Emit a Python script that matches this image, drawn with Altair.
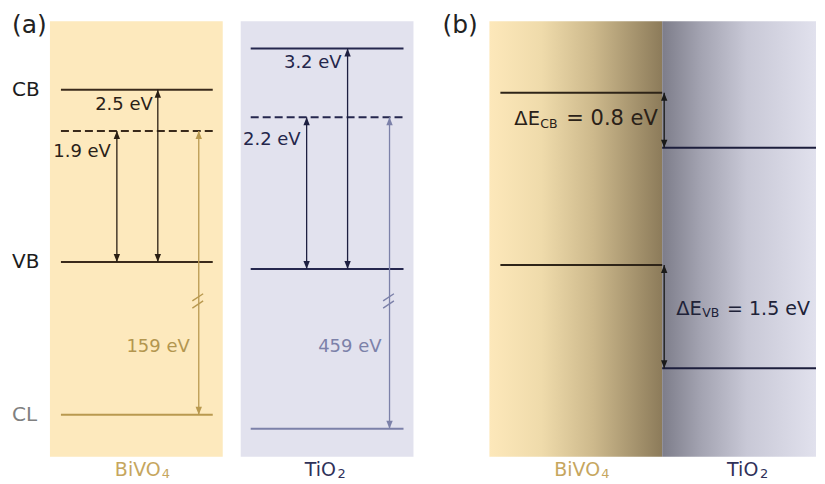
import altair as alt
import pandas as pd

# ---------------- data ----------------
materials = ["BiVO₄", "TiO₂"]
material_main = ["BiVO", "TiO"]
material_sub = ["4", "2"]
band_gap = [2.5, 3.2]            # eV  (CB - VB)
defect_gap = [1.9, 2.2]          # eV  (dashed level - VB)
core_level_be = [159, 459]       # eV  (VB - CL), drawn with a broken axis
level_names = ["CB", "VB", "CL"]
delta_cb = 0.8                   # eV  CB offset at the heterojunction
delta_vb = 1.5                   # eV  VB offset at the heterojunction
panel_tags = ["(a)", "(b)"]

# ---------------- layout (x in layout units, y on an eV scale) ----------------
PX_PER_EV = 69.0
def ev(p):  # layout row -> energy coordinate (VB of BiVO4 in panel a is 0 eV)
    return (262.0 - p) / PX_PER_EV

LAY_A = {
    "BiVO₄": dict(bg=(50, 223), line=(61, 213), vb=0.0, cl_drop=2.217,
                  x_def=117, x_gap=158, x_core=199,
                  lab_gap=(153, 105), lab_def=(111, 152), lab_core=(190, 347),
                  brk=301, name_x=(115, 162)),
    "TiO₂": dict(bg=(241, 414), line=(251, 404), vb=-0.101, cl_drop=2.319,
                 x_def=307, x_gap=348, x_core=390,
                 lab_gap=(342, 62.5), lab_def=(301, 139.5), lab_core=(382, 347),
                 brk=301, name_x=(305, 338)),
}
LAY_B = dict(x0=490, xi=663, x1=817, l_line=501, r_line=817, vb=-0.043, x_arrow=665,
             name_x=[(555, 602), (728, 761)])
BG_TOP, BG_BOT = ev(21), ev(457)

STY = {
    "BiVO₄": dict(bg="#fde9bd", level="#3a2a1b", arrow="#2a1f14", core="#b9994f",
                  core_txt="#b3964f", name="#c6a65e", txt="#2a2118"),
    "TiO₂": dict(bg="#e2e2ee", level="#25274e", arrow="#1d1f41", core="#7c81a9",
                 core_txt="#7c81a9", name="#2f3159", txt="#24264b"),
}
FONT = "DejaVu Sans"

# ---------------- build tables ----------------
levels, dashed, arrows, heads_up, heads_dn, breaks, texts = [], [], [], [], [], [], []
bgs = []
for i, m in enumerate(materials):
    L, S = LAY_A[m], STY[m]
    vb = L["vb"]; cb = vb + band_gap[i]; dl = vb + defect_gap[i]; cl = vb - L["cl_drop"]
    x0, x1 = L["line"]
    bgs.append(dict(x=L["bg"][0], x2=L["bg"][1], y=BG_BOT, y2=BG_TOP, c=S["bg"]))
    levels += [dict(x=x0, x2=x1, y=cb, c=S["level"]),
               dict(x=x0, x2=x1, y=vb, c=S["level"]),
               dict(x=x0, x2=x1, y=cl, c=S["core"])]
    dashed.append(dict(x=x0, x2=x1, y=dl, c=S["level"]))
    for xa, top, bot, col in [(L["x_def"], dl, vb, S["arrow"]),
                              (L["x_gap"], cb, vb, S["arrow"]),
                              (L["x_core"], dl, cl, S["core"])]:
        arrows.append(dict(x=xa, y=top, y2=bot, c=col))
        heads_up.append(dict(x=xa, y=top, c=col))
        heads_dn.append(dict(x=xa, y=bot, c=col))
    breaks.append(dict(x=L["x_core"] - 1, y=ev(L["brk"]), c=S["core"]))
    texts += [
        dict(x=L["lab_gap"][0], y=ev(L["lab_gap"][1]), t=f"{band_gap[i]} eV", c=S["txt"], s=18, a="right"),
        dict(x=L["lab_def"][0], y=ev(L["lab_def"][1]), t=f"{defect_gap[i]} eV", c=S["txt"], s=18, a="right"),
        dict(x=L["lab_core"][0], y=ev(L["lab_core"][1]), t=f"{core_level_be[i]} eV", c=S["core_txt"], s=18, a="right"),
    ]
    for (xm, xs) in [L["name_x"], LAY_B["name_x"][i]]:
        texts.append(dict(x=xm, y=ev(470), t=material_main[i], c=S["name"], s=19, a="left"))
        texts.append(dict(x=xs, y=ev(474), t=material_sub[i], c=S["name"], s=13, a="left"))

# level labels on the left of panel (a)
LB = LAY_A["BiVO₄"]
lvl_y = [LB["vb"] + band_gap[0], LB["vb"], LB["vb"] - LB["cl_drop"]]
lvl_c = ["#1c1c1c", "#1c1c1c", "#808080"]
for n, yy, cc in zip(level_names, lvl_y, lvl_c):
    texts.append(dict(x=12, y=yy, t=n, c=cc, s=20, a="left"))
texts.append(dict(x=12, y=ev(25), t=panel_tags[0], c="#222222", s=25, a="left"))
texts.append(dict(x=443, y=ev(25), t=panel_tags[1], c="#222222", s=25, a="left"))

# panel (b): heterojunction
vbB = LAY_B["vb"]
cb_l, vb_l = vbB + band_gap[0], vbB
vb_r = vbB - delta_vb
cb_r = vb_r + band_gap[1]
xi = LAY_B["xi"]
levels += [dict(x=LAY_B["l_line"], x2=xi, y=cb_l, c="#2e2418"),
           dict(x=LAY_B["l_line"], x2=xi, y=vb_l, c="#2e2418"),
           dict(x=xi, x2=LAY_B["r_line"], y=cb_r, c="#1c1e3c"),
           dict(x=xi, x2=LAY_B["r_line"], y=vb_r, c="#1c1e3c")]
xa = LAY_B["x_arrow"]
for top, bot in [(cb_l, cb_r), (vb_l, vb_r)]:
    arrows.append(dict(x=xa, y=top, y2=bot, c="#1a1a1a"))
    heads_up.append(dict(x=xa, y=top, c="#1a1a1a"))
    heads_dn.append(dict(x=xa, y=bot, c="#1a1a1a"))

for (xs, pc, sub, val, col, fs) in [((515, 541, 567), 119, "CB", delta_cb, "#2a2118", 21),
                                    ((677, 703, 728), 309, "VB", delta_vb, "#202238", 19)]:
    texts.append(dict(x=xs[0], y=ev(pc), t="ΔE", c=col, s=19.5, a="left"))
    texts.append(dict(x=xs[2], y=ev(pc), t=f"= {val} eV", c=col, s=fs, a="left"))
    texts.append(dict(x=xs[1], y=ev(pc + 4.5), t=sub, c=col, s=12.5, a="left"))

# ---------------- chart ----------------
XS = alt.Scale(domain=[8, 817], nice=False, zero=False)
YS = alt.Scale(domain=[ev(476), ev(8)], nice=False, zero=False)
X = lambda f="x": alt.X(f"{f}:Q", scale=XS, axis=None)
Y = lambda f="y": alt.Y(f"{f}:Q", scale=YS, axis=None)
C = alt.Color("c:N", scale=None, legend=None)

bg = alt.Chart(pd.DataFrame(bgs)).mark_rect().encode(x=X(), x2="x2:Q", y=Y(), y2="y2:Q", color=C)

grad_l = alt.Gradient(gradient="linear", x1=0, x2=1, y1=0, y2=0, stops=[
    alt.GradientStop(offset=0, color="#fde8ba"),
    alt.GradientStop(offset=0.3, color="#efdbab"),
    alt.GradientStop(offset=0.6, color="#cdb98c"),
    alt.GradientStop(offset=1, color="#8c7b5a")])
grad_r = alt.Gradient(gradient="linear", x1=0, x2=1, y1=0, y2=0, stops=[
    alt.GradientStop(offset=0, color="#7d7d8a"),
    alt.GradientStop(offset=0.25, color="#a3a3b1"),
    alt.GradientStop(offset=0.55, color="#c8c8d6"),
    alt.GradientStop(offset=1, color="#e1e1ed")])
bgb = pd.DataFrame([dict(x=LAY_B["x0"], x2=xi, y=BG_BOT, y2=BG_TOP, side="l"),
                    dict(x=xi, x2=LAY_B["x1"], y=BG_BOT, y2=BG_TOP, side="r")])
bg_l = alt.Chart(bgb).transform_filter("datum.side == 'l'").mark_rect(color=grad_l).encode(
    x=X(), x2="x2:Q", y=Y(), y2="y2:Q")
bg_r = alt.Chart(bgb).transform_filter("datum.side == 'r'").mark_rect(color=grad_r).encode(
    x=X(), x2="x2:Q", y=Y(), y2="y2:Q")

lv = alt.Chart(pd.DataFrame(levels)).mark_rule(strokeWidth=2).encode(x=X(), x2="x2:Q", y=Y(), color=C)
ds = alt.Chart(pd.DataFrame(dashed)).mark_rule(strokeWidth=2, strokeDash=[8, 4]).encode(
    x=X(), x2="x2:Q", y=Y(), color=C)
ar = alt.Chart(pd.DataFrame(arrows)).mark_rule(strokeWidth=1.3).encode(x=X(), y=Y(), y2="y2:Q", color=C)
hu = alt.Chart(pd.DataFrame(heads_up)).mark_point(
    shape="M0,0L-0.4,1L0.4,1Z", size=256, filled=True, opacity=1).encode(x=X(), y=Y(), color=C)
hd = alt.Chart(pd.DataFrame(heads_dn)).mark_point(
    shape="M0,0L-0.4,-1L0.4,-1Z", size=256, filled=True, opacity=1).encode(x=X(), y=Y(), color=C)
br = alt.Chart(pd.DataFrame(breaks)).mark_point(
    shape="M-0.9,0L0.9,-1.2M-0.9,1.2L0.9,0", size=144, filled=False, opacity=1,
    strokeWidth=1.4).encode(x=X(), y=Y(), color=C)

tdf = pd.DataFrame(texts)
txt_layers = []
for al in ["left", "right", "center"]:
    sub = tdf[tdf["a"] == al]
    if len(sub) == 0:
        continue
    txt_layers.append(
        alt.Chart(sub).mark_text(align=al, baseline="middle", font=FONT).encode(
            x=X(), y=Y(), text="t:N", color=C, size=alt.Size("s:Q", scale=None, legend=None)))

chart = alt.layer(bg, bg_l, bg_r, lv, ds, ar, hu, hd, br, *txt_layers).properties(
    width=809, height=468, padding=0
).configure_view(stroke=None)

chart.save("out.html", embed_options={"renderer": "svg", "actions": False})
